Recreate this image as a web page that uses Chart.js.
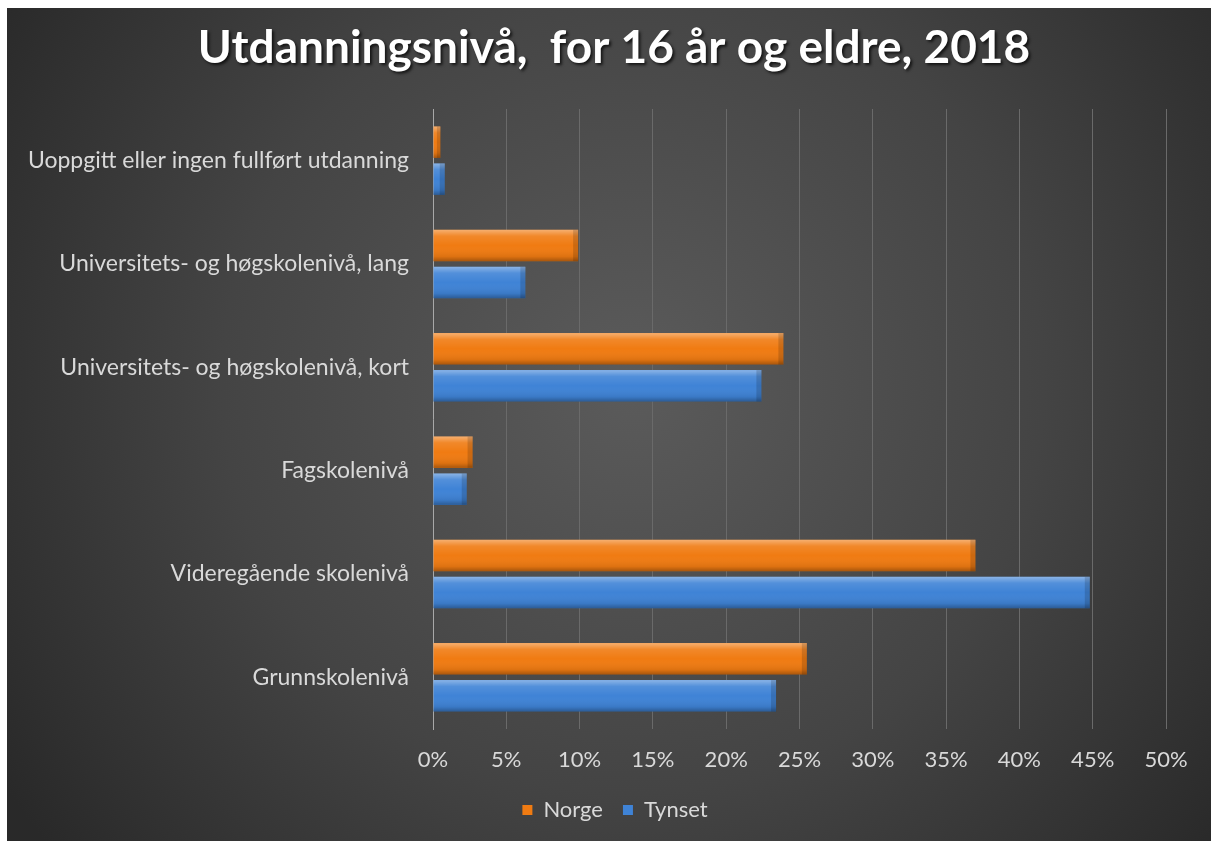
<!DOCTYPE html>
<html>
<head>
<meta charset="utf-8">
<script src="https://cdn.jsdelivr.net/npm/chart.js@4/dist/chart.umd.min.js"></script>
<style>
	html, body { margin: 0; padding: 0; background: #ffffff; overflow: hidden; }
	#wrap { position: fixed; left: 7px; top: 8px; right: 0; bottom: 0; background: #292929; }
	#chart { position: absolute; left: 0; top: 0; }
</style>
</head>
<body>
<div id="wrap"><canvas id="chart" width="1204" height="833"></canvas></div>
<script>
var categories = [
	'Uoppgitt eller ingen fullført utdanning',
	'Universitets- og høgskolenivå, lang',
	'Universitets- og høgskolenivå, kort',
	'Fagskolenivå',
	'Videregående skolenivå',
	'Grunnskolenivå'
];
var norge = [0.5, 9.9, 23.9, 2.7, 37.0, 25.5];
var tynset = [0.8, 6.3, 22.4, 2.3, 44.8, 23.4];
var seriesNames = ['Norge', 'Tynset'];
var seriesColors = ['#f07b12', '#3f83d6'];
var xMax = 50;
var xStep = 5;
var titleText = 'Utdanningsnivå,  for 16 år og eldre, 2018';

var fontFamily = 'Lato, "Open Sans", sans-serif';
var textColor = '#d9d9d9';

// dark radial background like the spreadsheet theme
var backgroundPlugin = {
	id: 'darkBackground',
	beforeDraw: function (chart) {
		var ctx = chart.ctx;
		var w = chart.width, h = chart.height;
		var g = ctx.createRadialGradient(w * 0.52, h * 0.45, 0, w * 0.52, h * 0.45, w * 0.62);
		g.addColorStop(0, '#5b5b5b');
		g.addColorStop(0.55, '#444444');
		g.addColorStop(1, '#292929');
		ctx.save();
		ctx.fillStyle = g;
		ctx.fillRect(0, 0, w, h);
		ctx.restore();
	}
};

// title centred on the whole canvas, with a soft shadow
var titlePlugin = {
	id: 'centredTitle',
	afterDraw: function (chart) {
		var ctx = chart.ctx;
		ctx.save();
		ctx.font = 'bold 46px ' + fontFamily;
		ctx.fillStyle = '#ffffff';
		ctx.textAlign = 'center';
		ctx.textBaseline = 'middle';
		ctx.shadowColor = 'rgba(0,0,0,0.7)';
		ctx.shadowOffsetX = 2;
		ctx.shadowOffsetY = 2;
		ctx.shadowBlur = 3;
		ctx.fillText(titleText, chart.width / 2 + 5, 40);
		ctx.restore();
	}
};

// bevel highlight on each bar, using the positions chart.js computed
var bevelPlugin = {
	id: 'bevel',
	afterDatasetsDraw: function (chart) {
		var ctx = chart.ctx;
		chart.data.datasets.forEach(function (ds, i) {
			var meta = chart.getDatasetMeta(i);
			meta.data.forEach(function (bar) {
				var top = bar.y - bar.height / 2;
				var left = bar.base;
				var len = bar.x - bar.base;
				var g = ctx.createLinearGradient(0, top, 0, top + bar.height);
				g.addColorStop(0, 'rgba(255,255,255,0.4)');
				g.addColorStop(0.2, 'rgba(255,255,255,0.1)');
				g.addColorStop(0.5, 'rgba(255,255,255,0)');
				g.addColorStop(0.85, 'rgba(0,0,0,0.08)');
				g.addColorStop(1, 'rgba(0,0,0,0.3)');
				ctx.save();
				ctx.fillStyle = g;
				ctx.fillRect(left, top, len, bar.height);
				var e = Math.min(5, len / 2);
				ctx.fillStyle = 'rgba(0,0,0,0.15)';
				ctx.fillRect(bar.x - e, top, e, bar.height);
				ctx.restore();
			});
		});
	}
};

var context = document.getElementById('chart').getContext('2d');
var chart = new Chart(context, {
	type: 'bar',
	data: {
		labels: categories,
		datasets: [
			{ label: seriesNames[0], data: norge, backgroundColor: seriesColors[0], borderWidth: 0 },
			{ label: seriesNames[1], data: tynset, backgroundColor: seriesColors[1], borderWidth: 0 }
		]
	},
	options: {
		indexAxis: 'y',
		responsive: false,
		animation: false,
		maintainAspectRatio: false,
		categoryPercentage: 0.716,
		barPercentage: 0.85,
		layout: { padding: { left: 12, right: 0, top: 101, bottom: 10 } },
		plugins: {
			title: { display: false },
			legend: {
				position: 'bottom',
				labels: {
					color: textColor,
					font: { family: fontFamily, size: 22 },
					boxWidth: 10,
					boxHeight: 10,
					padding: 20
				}
			},
			tooltip: { enabled: false }
		},
		scales: {
			x: {
				min: 0,
				max: xMax,
				afterFit: function (scale) { scale.height = 50; },
				ticks: {
					stepSize: xStep,
					color: textColor,
					font: { family: fontFamily, size: 22 },
					padding: 18,
					callback: function (v) { return v + '%'; }
				},
				grid: { color: '#6a6a6a', lineWidth: 1, drawTicks: false },
				border: { display: false }
			},
			y: {
				afterFit: function (scale) { scale.width = 414; },
				ticks: {
					color: textColor,
					font: { family: fontFamily, size: 23 },
					padding: 24
				},
				grid: { display: false, drawTicks: false },
				border: { display: true, color: '#a8a8a8', width: 1 }
			},
			// empty right-hand margin so the legend centres on the whole panel
			yRight: {
				type: 'category',
				position: 'right',
				afterFit: function (scale) { scale.width = 45; },
				ticks: { display: false },
				grid: { display: false, drawTicks: false },
				border: { display: false }
			}
		}
	},
	plugins: [backgroundPlugin, bevelPlugin, titlePlugin]
});
</script>
</body>
</html>
